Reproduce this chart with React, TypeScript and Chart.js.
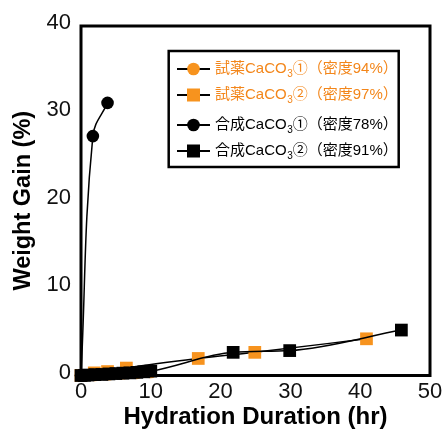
import React, { useEffect, useRef } from 'react';
import { Chart, registerables } from 'chart.js';

Chart.register(...registerables);

// ---- data ----
const reagent1X = [0, 2, 4, 6, 8, 10];
const reagent1Y = [0, 0.05, 0.15, 0.25, 0.3, 0.4];
const reagent2X = [0, 1.9, 3.8, 6.5, 16.8, 24.9, 40.9];
const reagent2Y = [0, 0.3, 0.45, 0.85, 1.95, 2.65, 4.2];
const synth1X = [0, 1.7, 3.8];
const synth1Y = [0, 27.4, 31.2];
const synth2X = [0, 0.5, 1, 2, 3, 4, 5, 6, 7, 8, 9, 10, 21.8, 29.9, 45.9];
const synth2Y = [0, 0.02, 0.05, 0.1, 0.12, 0.18, 0.22, 0.27, 0.3, 0.36, 0.42, 0.5, 2.65, 2.85, 5.2];

const xTicks = [0, 10, 20, 30, 40, 50];
const yTicks = [0, 10, 20, 30, 40];

const legendPrefix = ['試薬CaCO', '試薬CaCO', '合成CaCO', '合成CaCO'];
const legendSub = ['3', '3', '3', '3'];
const legendSuffix = ['①（密度94%）', '②（密度97%）', '①（密度78%）', '②（密度91%）'];

const xTitle = 'Hydration Duration (hr)';
const yTitle = 'Weight Gain (%)';

const ORANGE = '#F7931E';
const ORANGE_TEXT = '#F3861A';
const BLACK = '#000000';
const FONT = '"Liberation Sans", Arial, "Noto Sans CJK JP", sans-serif';

const zip = (xs: number[], ys: number[]) => xs.map((x, i) => ({ x, y: ys[i] }));

const legendColors = [ORANGE, ORANGE, BLACK, BLACK];
const legendTextColors = [ORANGE_TEXT, ORANGE_TEXT, BLACK, BLACK];
const legendShapes = ['circle', 'rect', 'circle', 'rect'];

const framePlugin = {
  id: 'frame',
  beforeDatasetsDraw(chart: any) {
    const { ctx, chartArea } = chart;
    ctx.save();
    ctx.strokeStyle = '#000';
    ctx.lineWidth = 3;
    ctx.strokeRect(chartArea.left, chartArea.top, chartArea.right - chartArea.left, chartArea.bottom - chartArea.top);
    ctx.restore();
  },
};

const legendPlugin = {
  id: 'insideLegend',
  afterDatasetsDraw(chart: any) {
    const { ctx } = chart;
    ctx.save();
    const bx = 168.7, by = 51, bw = 230, bh = 116;
    ctx.fillStyle = '#fff';
    ctx.fillRect(bx, by, bw, bh);
    ctx.strokeStyle = '#000';
    ctx.lineWidth = 2.5;
    ctx.strokeRect(bx, by, bw, bh);
    const rowsY = [69, 95, 125, 151];
    rowsY.forEach((ry, i) => {
      ctx.strokeStyle = '#000';
      ctx.lineWidth = 2;
      ctx.beginPath();
      ctx.moveTo(177, ry);
      ctx.lineTo(210, ry);
      ctx.stroke();
      ctx.fillStyle = legendColors[i];
      if (legendShapes[i] === 'circle') {
        ctx.beginPath();
        ctx.arc(193.5, ry, 6.3, 0, Math.PI * 2);
        ctx.fill();
      } else {
        ctx.fillRect(187, ry - 6.5, 13, 13);
      }
      ctx.fillStyle = legendTextColors[i];
      ctx.textBaseline = 'middle';
      ctx.textAlign = 'left';
      let tx = 215;
      ctx.font = `15px ${FONT}`;
      ctx.fillText(legendPrefix[i], tx, ry);
      tx += ctx.measureText(legendPrefix[i]).width;
      ctx.font = `10px ${FONT}`;
      ctx.fillText(legendSub[i], tx + 0.5, ry + 5.5);
      tx += ctx.measureText(legendSub[i]).width + 0.5;
      ctx.font = `15px ${FONT}`;
      ctx.fillText(legendSuffix[i], tx, ry);
    });
    ctx.restore();
  },
};

export default function App() {
  const ref = useRef<HTMLCanvasElement | null>(null);
  useEffect(() => {
    if (!ref.current) return;
    const common = { showLine: true, borderColor: BLACK, borderWidth: 1.5, clip: false as any, pointBorderWidth: 0 };
    const chart = new Chart(ref.current, {
      type: 'scatter',
      data: {
        datasets: [
          { ...common, cubicInterpolationMode: 'monotone', label: legendPrefix[3] + legendSub[3] + legendSuffix[3], data: zip(synth2X, synth2Y), pointStyle: 'rect', pointRadius: 9, backgroundColor: BLACK, pointBackgroundColor: BLACK, order: 0 },
          { ...common, tension: 0.4, label: legendPrefix[2] + legendSub[2] + legendSuffix[2], data: zip(synth1X, synth1Y), pointStyle: 'circle', pointRadius: 6.3, backgroundColor: BLACK, pointBackgroundColor: BLACK, order: 1 },
          { ...common, cubicInterpolationMode: 'monotone', label: legendPrefix[1] + legendSub[1] + legendSuffix[1], data: zip(reagent2X, reagent2Y), pointStyle: 'rect', pointRadius: 9, backgroundColor: ORANGE, pointBackgroundColor: ORANGE, order: 2 },
          { ...common, cubicInterpolationMode: 'monotone', label: legendPrefix[0] + legendSub[0] + legendSuffix[0], data: zip(reagent1X, reagent1Y), pointStyle: 'circle', pointRadius: 6.3, backgroundColor: ORANGE, pointBackgroundColor: ORANGE, order: 3 },
        ],
      } as any,
      options: {
        animation: false,
        responsive: false,
        layout: { padding: { top: 26, right: 16, left: 0, bottom: 0 } },
        plugins: { legend: { display: false }, tooltip: { enabled: false } },
        scales: {
          x: {
            type: 'linear',
            min: 0,
            max: 50,
            afterBuildTicks: (s: any) => { s.ticks = xTicks.map((v) => ({ value: v })); },
            afterFit: (s: any) => { s.height = 61.5; },
            ticks: { font: { family: FONT, size: 22 }, color: '#111', padding: 3, maxRotation: 0 },
            grid: { display: false, drawTicks: false },
            border: { display: false },
            title: { display: true, text: xTitle, color: '#000', font: { family: FONT, size: 24, weight: 'bold' }, padding: { top: 0, bottom: 5 } },
          },
          y: {
            type: 'linear',
            min: 0,
            max: 40,
            afterBuildTicks: (s: any) => { s.ticks = yTicks.map((v) => ({ value: v })); },
            afterFit: (s: any) => { s.width = 81; },
            ticks: { font: { family: FONT, size: 22 }, color: '#111', padding: 10, labelOffset: -3 },
            grid: { display: false, drawTicks: false },
            border: { display: false },
            title: { display: true, text: yTitle, color: '#000', font: { family: FONT, size: 23.5, weight: 'bold' }, padding: { top: 9, bottom: 0 } },
          },
        },
      } as any,
      plugins: [framePlugin, legendPlugin],
    });
    return () => chart.destroy();
  }, []);
  return (
    <div style={{ position: 'fixed', left: 0, top: 0, width: 446, height: 437, background: '#fff' }}>
      <canvas ref={ref} width={446} height={437} style={{ display: 'block', width: 446, height: 437 }} />
    </div>
  );
}
